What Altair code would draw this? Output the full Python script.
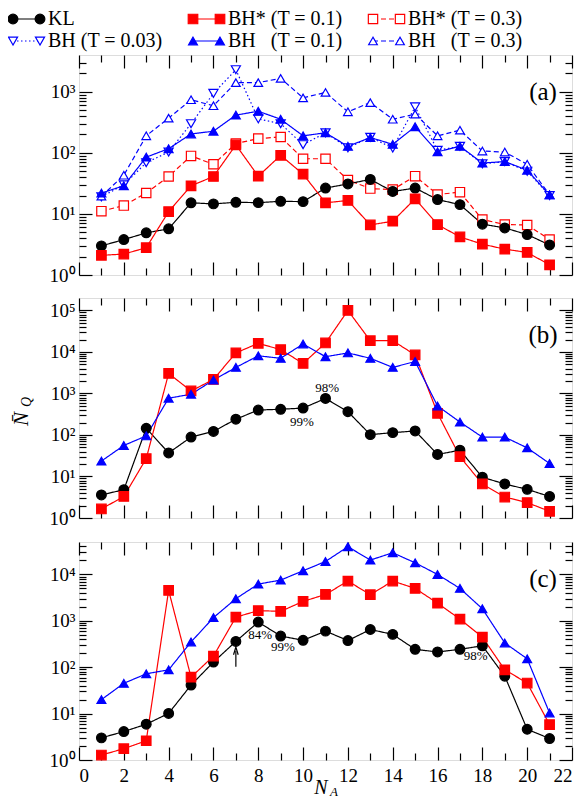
import altair as alt
import pandas as pd

FONT = "Liberation Serif, serif"
NA = list(range(1, 22))

# ---------------- data ----------------
# Panel (a)
a_KL    = [3.0, 3.8, 4.9, 5.7, 15.2, 14.6, 15.5, 15.3, 16.1, 15.9, 26.5, 31, 36.7, 23.3, 26.5, 17.2, 14.2, 6.8, 5.9, 4.6, 3.1]
a_BHs01 = [2.1, 2.2, 2.8, 10.9, 28.9, 41, 135, 41.5, 91, 44.8, 15.2, 16.6, 6.6, 7.6, 17.7, 6.7, 4.2, 3.2, 2.65, 2.34, 1.47]
a_BHs03 = [11.1, 13.7, 22, 41, 89, 65, 142, 171, 182, 80, 80, 36, 26, 25, 41.5, 20.8, 22.7, 8.1, 6.7, 6.6, 3.8]
a_BH003 = [19, 30, 69, 103, 300, 940, 2300, 360, 300, 136, 213, 121, 180, 120, 565, 110, 128, 66, 72, 50, 20]
a_BH01  = [21.9, 29, 85, 117, 204, 226, 415, 480, 355, 190, 213, 128, 178, 138, 268, 104, 128, 68, 72, 52, 20.5]
a_BH03  = [19.5, 43, 190, 370, 740, 590, 1410, 1410, 1660, 795, 975, 470, 665, 355, 430, 190, 235, 107, 103, 65, 20.5]

# Panel (b)
b_KL    = [3.6, 4.8, 145, 37, 89, 122, 240, 400, 417, 445, 760, 365, 102, 114, 125, 34, 43, 9.6, 6.6, 4.9, 3.3]
b_BHs01 = [1.65, 3.3, 27, 3040, 1150, 2180, 9500, 16200, 11400, 5300, 16500, 100000, 18700, 18700, 8500, 333, 30, 6.6, 3.2, 2.35, 1.45]
b_BH01  = [23.5, 56, 95, 770, 960, 2100, 4250, 8100, 7050, 15600, 7700, 9500, 7050, 4250, 5900, 500, 205, 89, 89, 49, 20.6]

# Panel (c)
c_KL    = [3.0, 4.1, 5.9, 10.1, 41.3, 129, 360, 940, 470, 380, 600, 375, 650, 510, 243, 213, 243, 290, 64, 4.6, 2.9]
c_BHs01 = [1.28, 1.75, 2.6, 4530, 61, 174, 1200, 1660, 1600, 2620, 3700, 7200, 3650, 7200, 5000, 2400, 1090, 445, 88, 45.6, 5.8]
c_BH01  = [20, 45, 72, 88, 350, 1170, 3000, 6200, 7550, 12000, 19000, 39600, 20400, 29300, 17800, 10000, 5000, 1820, 333, 152, 10.3]

# annotations
b_note_text = ["98%", "99%"]
b_note_x    = [11.07, 9.95]
b_note_y    = [1380, 209]
c_note_text = ["84%", "99%", "98%"]
c_note_x    = [8.08, 9.1, 17.7]
c_note_y    = [500, 275, 177]
c_arrow_x   = [7]
c_arrow_from = [102]
c_arrow_to   = [225]

# series styling
SERIES = ["KL", "BHs01", "BHs03", "BH003", "BH01", "BH03"]
LABELS = ["KL", "BH* (T = 0.1)", "BH* (T = 0.3)", "BH (T = 0.03)",
          "BH\u00a0\u00a0\u00a0(T = 0.1)", "BH\u00a0\u00a0\u00a0(T = 0.3)"]
COLORS = ["black", "#ff0000", "#ff0000", "#0000ff", "#0000ff", "#0000ff"]
FILLS  = ["black", "#ff0000", "white", "white", "#0000ff", "white"]
SHAPES = ["circle", "square", "square", "triangle-down", "triangle-up", "triangle-up"]
DASHES = [[1, 0], [1, 0], [5, 3], [1.5, 2.5], [1, 0], [5, 3]]
SIZES  = [95, 75, 55, 55, 85, 60]


def long_df(d):
    rows = []
    for s, vals in d.items():
        for x, v in zip(NA, vals):
            rows.append({"series": s, "NA": x, "val": v})
    return pd.DataFrame(rows)


df_a = long_df({"BHs03": a_BHs03, "BH003": a_BH003, "BH03": a_BH03,
                "KL": a_KL, "BHs01": a_BHs01, "BH01": a_BH01})
df_b = long_df({"KL": b_KL, "BHs01": b_BHs01, "BH01": b_BH01})
df_c = long_df({"KL": c_KL, "BHs01": c_BHs01, "BH01": c_BH01})

color_enc = alt.Color("series:N", scale=alt.Scale(domain=SERIES, range=COLORS), legend=None)
stroke_enc = alt.Stroke("series:N", scale=alt.Scale(domain=SERIES, range=COLORS), legend=None)
fill_enc = alt.Fill("series:N", scale=alt.Scale(domain=SERIES, range=FILLS), legend=None)
shape_enc = alt.Shape("series:N", scale=alt.Scale(domain=SERIES, range=SHAPES), legend=None)
dash_enc = alt.StrokeDash("series:N", scale=alt.Scale(domain=SERIES, range=DASHES), legend=None)
size_enc = alt.Size("series:N", scale=alt.Scale(domain=SERIES, range=SIZES), legend=None)

SUP = "['\u2070','\u00b9','\u00b2','\u00b3','\u2074','\u2075','\u2076']"
YLABEL_EXPR = "'10' + " + SUP + "[round(log(datum.value)/LN10)]"


def axis(orient, values, size, labels=False, expr=None, pad=5):
    kw = dict(orient=orient, values=values, tickSize=size, offset=-size, domain=False,
              grid=False, labels=labels, title=None, tickColor="black", tickWidth=1.2,
              labelFont=FONT, labelFontSize=19, labelColor="black", labelPadding=pad)
    if expr:
        kw["labelExpr"] = expr
    if orient in ("left", "right"):
        kw["labelFlush"] = False
        kw["labelOverlap"] = False
    return alt.Axis(**kw)


def panel(df, ymax, h, xlabels, tag, extra=()):
    dec = [10 ** k for k in range(0, 7) if 10 ** k <= ymax * 1.0001]
    mnr = [m * 10 ** k for k in range(0, 7) for m in range(2, 10) if m * 10 ** k < ymax]
    xmaj = list(range(0, 23, 2))
    xmin = list(range(1, 22, 2))
    xs = alt.Scale(domain=[0, 22], nice=False, zero=False)
    ys = alt.Scale(type="log", domain=[1, ymax], nice=False)

    def X(ax):
        return alt.X("NA:Q", scale=xs, axis=ax)

    def Y(ax):
        return alt.Y("val:Q", scale=ys, axis=ax)

    base = alt.Chart(df)
    lines = base.mark_line(strokeWidth=1.2).encode(
        x=X(axis("bottom", xmaj, 13, labels=xlabels, pad=6)),
        y=Y(axis("left", dec, 13, labels=True, expr=YLABEL_EXPR, pad=4)),
        color=color_enc, strokeDash=dash_enc)
    pts = base.mark_point(filled=True, strokeWidth=1.2, opacity=1).encode(
        x=X(None), y=Y(None), fill=fill_enc, stroke=stroke_enc, shape=shape_enc, size=size_enc)
    ax2 = base.mark_point(opacity=0).encode(x=X(axis("bottom", xmin, 7)), y=Y(axis("left", mnr, 7)))
    ax3 = base.mark_point(opacity=0).encode(x=X(axis("top", xmaj, 13)), y=Y(axis("right", dec, 13)))
    ax4 = base.mark_point(opacity=0).encode(x=X(axis("top", xmin, 7)), y=Y(axis("right", mnr, 7)))
    tag_layer = alt.Chart(pd.DataFrame({"t": [tag]})).mark_text(
        font=FONT, fontSize=25, color="black").encode(
        x=alt.value(464), y=alt.value(37), text="t:N")
    layers = [ax2, ax3, ax4, lines, pts, tag_layer] + list(extra)
    return alt.layer(*layers).resolve_axis(x="independent", y="independent").properties(
        width=493, height=h)


# ---- legend (drawn above panel a) ----
leg_col = [0, 1, 2, 0, 1, 2]
leg_row = [0, 0, 0, 1, 1, 1]
LEG_X0 = [-66, 114, 294]
LEG_Y = [-36, -14]
leg = pd.DataFrame({
    "series": SERIES,
    "label": LABELS,
    "lx0": [LEG_X0[c] for c in leg_col],
    "lx1": [LEG_X0[c] + 27 for c in leg_col],
    "tx": [LEG_X0[c] + 35 for c in leg_col],
    "ly": [LEG_Y[r] for r in leg_row],
})
lbase = alt.Chart(leg)
LY = alt.Y("ly:Q", scale=None, axis=None)
leg_rule = lbase.mark_rule(strokeWidth=1.2).encode(
    x=alt.X("lx0:Q", scale=None, axis=None), x2="lx1:Q", y=LY, color=color_enc, strokeDash=dash_enc)
leg_p0 = lbase.mark_point(filled=True, strokeWidth=1.2, opacity=1).encode(
    x=alt.X("lx0:Q", scale=None, axis=None), y=LY, fill=fill_enc, stroke=stroke_enc,
    shape=shape_enc, size=size_enc)
leg_p1 = lbase.mark_point(filled=True, strokeWidth=1.2, opacity=1).encode(
    x=alt.X("lx1:Q", scale=None, axis=None), y=LY, fill=fill_enc, stroke=stroke_enc,
    shape=shape_enc, size=size_enc)
leg_txt = lbase.mark_text(align="left", baseline="middle", font=FONT, fontSize=20, color="black").encode(
    x=alt.X("tx:Q", scale=None, axis=None), y=LY, text="label:N")

pa = panel(df_a, 4000, 220, False, "(a)", [leg_rule, leg_p0, leg_p1, leg_txt])

# ---- panel b extras ----
XS = alt.Scale(domain=[0, 22], nice=False, zero=False)
nb = pd.DataFrame({"t": b_note_text, "x": b_note_x, "y": b_note_y})
b_notes = alt.Chart(nb).mark_text(font=FONT, fontSize=13, color="black").encode(
    x=alt.X("x:Q", scale=XS, axis=None),
    y=alt.Y("y:Q", scale=alt.Scale(type="log", domain=[1, 200000], nice=False), axis=None),
    text="t:N")
ytitle_n = alt.Chart(pd.DataFrame({"t": ["N\u0304"]})).mark_text(
    font=FONT, fontSize=21, fontStyle="italic", angle=270, color="black").encode(
    x=alt.value(-57), y=alt.value(121), text="t:N")
ytitle_q = alt.Chart(pd.DataFrame({"t": ["Q"]})).mark_text(
    font=FONT, fontSize=14, fontStyle="italic", angle=270, color="black").encode(
    x=alt.value(-52), y=alt.value(104), text="t:N")
pb = panel(df_b, 200000, 220, False, "(b)", [b_notes, ytitle_n, ytitle_q])

# ---- panel c extras ----
CYS = alt.Scale(type="log", domain=[1, 50000], nice=False)
nc = pd.DataFrame({"t": c_note_text, "x": c_note_x, "y": c_note_y})
c_notes = alt.Chart(nc).mark_text(font=FONT, fontSize=13, color="black").encode(
    x=alt.X("x:Q", scale=XS, axis=None), y=alt.Y("y:Q", scale=CYS, axis=None), text="t:N")
arr = pd.DataFrame({"x": c_arrow_x, "y0": c_arrow_from, "y1": c_arrow_to})
c_arrow = alt.Chart(arr).mark_rule(color="black", strokeWidth=1.2).encode(
    x=alt.X("x:Q", scale=XS, axis=None), y=alt.Y("y0:Q", scale=CYS, axis=None), y2="y1:Q")
c_head = alt.Chart(arr).mark_point(
    shape="M -0.6 1 L 0 -1 L 0.6 1", filled=False, color="black", strokeWidth=1.2, size=60, opacity=1).encode(
    x=alt.X("x:Q", scale=XS, axis=None), y=alt.Y("y1:Q", scale=CYS, axis=None))
xtitle_n = alt.Chart(pd.DataFrame({"t": ["N"]})).mark_text(
    font=FONT, fontSize=20, fontStyle="italic", color="black").encode(
    x=alt.value(242), y=alt.value(246), text="t:N")
xtitle_a = alt.Chart(pd.DataFrame({"t": ["A"]})).mark_text(
    font=FONT, fontSize=13, fontStyle="italic", color="black").encode(
    x=alt.value(255), y=alt.value(250), text="t:N")
pc = panel(df_c, 50000, 218, True, "(c)", [c_notes, c_arrow, c_head, xtitle_n, xtitle_a])

chart = alt.vconcat(pa, pb, pc, spacing=10).properties(
    padding={"left": -3, "top": 0, "right": 0, "bottom": 0}
).configure_view(stroke="black", strokeWidth=2).configure(background="white", font=FONT)

chart.save("out.html", embed_options={"renderer": "svg", "actions": False})
